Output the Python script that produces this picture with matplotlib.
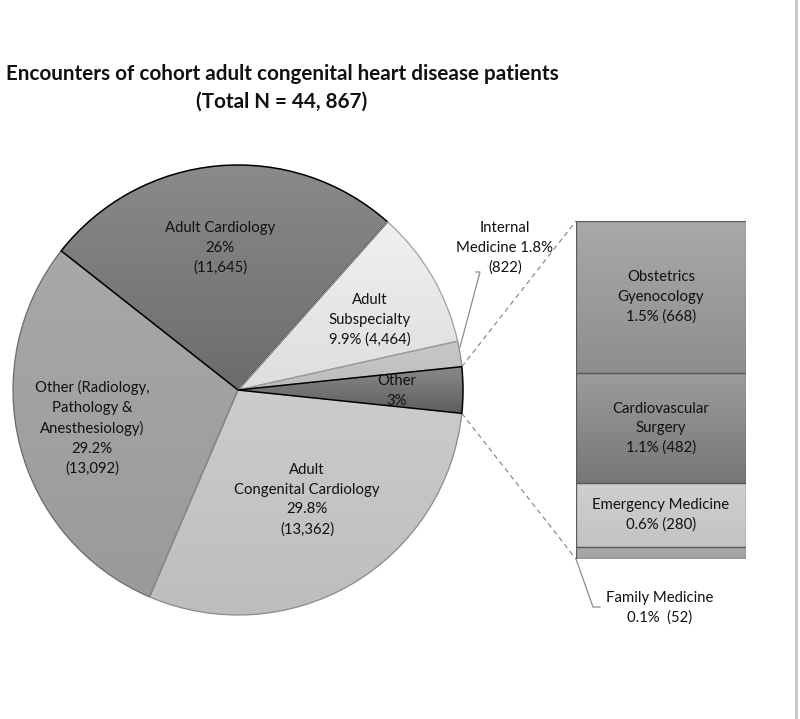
import numpy as np
import matplotlib.pyplot as plt
from matplotlib.colors import LinearSegmentedColormap

plt.rcParams['font.family'] = ['Lato', 'DejaVu Sans']

# ---- data ----
pie_labels = ["Other\n3%",
              "Internal\nMedicine 1.8%\n(822)",
              "Adult\nSubspecialty\n9.9% (4,464)",
              "Adult Cardiology\n26%\n(11,645)",
              "Other (Radiology,\nPathology &\nAnesthesiology)\n29.2%\n(13,092)",
              "Adult\nCongenital Cardiology\n29.8%\n(13,362)"]
other_parts = ["Family Medicine\n0.1%  (52)",
               "Emergency Medicine\n0.6% (280)",
               "Cardiovascular\nSurgery\n1.1% (482)",
               "Obstetrics\nGyenocology\n1.5% (668)"]
other_counts = [52, 280, 482, 668]
main_counts = [sum(other_counts), 822, 4464, 11645, 13092, 13362]

TITLE = "Encounters of cohort adult congenital heart disease patients\n(Total N = 44, 867)"

# ---- styling ----
W, H = 800, 719
pie_grad = [("#8a8a8a", "#5e5e5e"), ("#c8c8c8", "#bcbcbc"), ("#f0f0f0", "#dedede"),
            ("#8a8a8a", "#6c6c6c"), ("#a8a8a8", "#9a9a9a"), ("#cccccc", "#bdbdbd")]
pie_edges = ["black", "#8a8a8a", "#a0a0a0", "black", "#6a6a6a", "#8a8a8a"]
pie_z = [4, 2, 3, 2.5, 2, 2]
bar_grad = [("#ababab", "#a0a0a0"), ("#cfcfcf", "#c3c3c3"),
            ("#9c9c9c", "#767676"), ("#a9a9a9", "#8e8e8e")]

CX, CY, R = 238, 390, 225
BX0, BX1, BY0, BY1 = 576, 746, 221, 559   # bar box (image px)


def fy(y):
    return H - y


def grad_fill(ax, patch, ctop, cbot, z):
    bb = patch.get_path().get_extents(patch.get_patch_transform())
    cmap = LinearSegmentedColormap.from_list("g", [cbot, ctop])
    grad = np.linspace(0, 1, 256).reshape(-1, 1)
    im = ax.imshow(grad, cmap=cmap, origin="lower", aspect="auto",
                   extent=(bb.x0, bb.x1, bb.y0, bb.y1), zorder=z, interpolation="bilinear")
    im.set_clip_path(patch)


fig = plt.figure(figsize=(W / 100, H / 100), dpi=100)
ax = fig.add_axes([0, 0, 1, 1])

total = sum(main_counts)
start = -main_counts[0] / total * 180
wedges, _ = ax.pie(main_counts, center=(CX, fy(CY)), radius=R, startangle=start,
                   counterclock=True, frame=True,
                   colors=[g[0] for g in pie_grad])
for i, w in enumerate(wedges):
    grad_fill(ax, w, pie_grad[i][0], pie_grad[i][1], 0.5)
    w.set_facecolor("none")
    w.set_edgecolor(pie_edges[i])
    w.set_linewidth(1.1 if pie_edges[i] == "black" else 0.9)
    w.set_zorder(pie_z[i])

fs = 10.7
ls = 1.5
txt = dict(ha="center", va="center", fontsize=fs, linespacing=ls, color="#111111", zorder=6)
ax.text(397, fy(391), pie_labels[0], **txt)
ax.text(505, fy(248), pie_labels[1], **txt)
ax.text(370, fy(320), pie_labels[2], **txt)
ax.text(220, fy(248), pie_labels[3], **txt)
ax.text(92, fy(428), pie_labels[4], **txt)
ax.text(307, fy(500), pie_labels[5], **txt)

# connectors from the "Other" slice to the bar
half = np.deg2rad(main_counts[0] / total * 180)
px = CX + R * np.cos(half)
ax.plot([px, BX0], [fy(CY - R * np.sin(half)), fy(BY0)], ls=(0, (4, 3)), color="#8c8c8c", lw=0.9)
ax.plot([px, BX0], [fy(CY + R * np.sin(half)), fy(BY1)], ls=(0, (4, 3)), color="#8c8c8c", lw=0.9)

# leader lines
ax.plot([476, 480, 460], [fy(272), fy(272), fy(347)], color="#8c8c8c", lw=0.9)
ax.plot([BX0, 593, 600], [fy(BY1), fy(607), fy(607)], color="#8c8c8c", lw=0.9)
ax.text(660, fy(608), other_parts[0], **txt)

# right border line
ax.plot([796, 796], [0, H], color="#c8c8c8", lw=2)

ax.text(282, fy(88), TITLE, ha="center", va="center", fontsize=14.9, fontweight="bold",
        linespacing=1.45, color="#111111")

ax.set_xlim(0, W)
ax.set_ylim(0, H)
ax.set_aspect("equal")
ax.axis("off")

# ---- bar of the "Other" slice ----
bax = fig.add_axes([BX0 / W, (H - BY1) / H, (BX1 - BX0) / W, (BY1 - BY0) / H])
bottoms = np.concatenate([[0], np.cumsum(other_counts)[:-1]])
bars = bax.bar([0] * len(other_counts), other_counts, bottom=bottoms, width=1.0,
               color="none", edgecolor="#5a5a5a", linewidth=0.9, zorder=2)
for i, b in enumerate(bars):
    grad_fill(bax, b, bar_grad[i][0], bar_grad[i][1], 1)
for i in range(1, len(other_counts)):
    bax.text(0, bottoms[i] + other_counts[i] / 2, other_parts[i], **txt)
bax.set_xlim(-0.5, 0.5)
bax.set_ylim(0, sum(other_counts))
bax.axis("off")

fig.savefig("out.png", dpi=100, facecolor="white")
